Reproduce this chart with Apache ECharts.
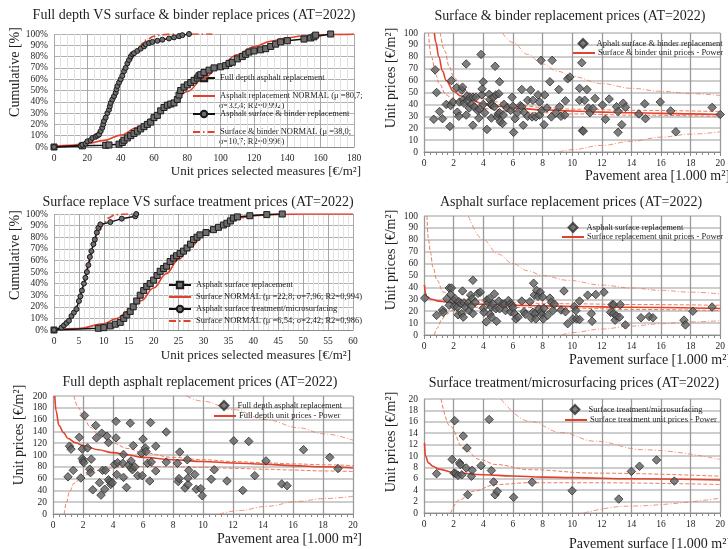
<!DOCTYPE html>
<html>
<head>
<meta charset="utf-8">
<title>Unit prices AT=2022</title>
<script src="https://cdn.jsdelivr.net/npm/echarts@6.0.0/dist/echarts.min.js"></script>
<style>
  html, body { margin: 0; padding: 0; background: #fff; }
  #main { width: 728px; height: 549px; }
</style>
</head>
<body>
<div id="main"></div>
<script>
// ---------- panel 1 : cumulative full depth vs surface & binder ----------
const p1FullDepth = [[0,0],[17,1],[31,1.5],[33,1.8],[39,2.5],[41,4],[42,6],[44,8],[46,10],[48,12],[50,14],[52,16],[54,18],[56,20],[58,22],[60,26],[62,28],[64,32],[66,35],[68,37],[70,38],[72,39],[74,42],[75,46],[76,50],[78,53],[80,55],[82,57],[84,59],[86,61],[87,63],[88,64],[90,66],[93,68],[96,70],[100,71],[103,72],[105,74],[107,75],[110,78],[113,80],[115,82],[117,84],[120,85],[124,86],[127,87],[130,89],[133,91],[136,93],[140,94],[150,95.5],[154,96.5],[156,97.5],[157,99],[166,100]];
const p1SurfBinder = [[0,0],[16,1],[17,2],[19,3],[20,5],[22,6],[23,8],[25,9],[26,10],[27,11],[28,14],[29,17],[29.5,20],[30,23],[31,26],[32,30],[33,33],[33.5,36],[34,39],[35,42],[36,45],[37,48],[37.5,51],[38,54],[39,57],[40,60],[41,63],[42,67],[43,70],[44,74],[45,77],[46,80],[47,82],[48,83],[50,85],[52,87],[54,89],[55,91],[57,92],[59,93],[62,94],[65,95],[69,96],[72,97],[75,98],[77,99],[81,100]];
const p1FullDepthFit = [[0,0.6],[10,1.5],[20,3.1],[30,5.9],[40,10.5],[50,17.2],[60,26.1],[70,37.1],[80,49.1],[90,61.3],[100,72.4],[110,81.7],[120,88.7],[130,93.6],[140,96.6],[150,98.4],[160,99.3],[170,99.7],[180,99.9]];
const p1SurfBinderFit = [[0,0],[10,0.4],[15,1.6],[20,4.6],[25,11.2],[30,22.7],[35,39],[40,57.4],[45,74.3],[50,86.9],[55,94.4],[60,98],[65,99.4],[70,99.9],[80,100],[95,100]];

// ---------- panel 3 : cumulative surface replace vs surface treatment ----------
const p3Surface = [[0,0],[8.9,1.5],[10,2],[11.3,3.5],[12.3,5],[13.3,6.6],[14,10],[14.6,13],[15.3,16],[15.9,20],[16.6,25],[17.3,30],[18,34],[18.6,37.6],[19.3,40],[20,43],[20.7,47],[21.3,50.6],[22,53],[22.6,55],[23.3,59],[24,62],[24.6,64],[25.3,66],[26,68],[26.7,70.7],[27.4,74],[28,78],[28.7,80],[29.3,82],[30.5,84],[32,86.5],[33,88.5],[34,90.5],[34.7,92],[35.4,94],[36,96.5],[36.8,97.5],[39.3,98.5],[42.7,99.5],[45.8,100]];
const p3Treatment = [[0,0],[1.5,2],[2,4],[2.5,6],[3,8],[3.5,12],[4,15],[4.5,18],[5,25],[5.3,29],[5.6,34],[6,40],[6.3,45],[6.6,50],[6.9,56],[7.2,63],[7.5,68],[7.9,74],[8.2,78],[8.6,84],[8.9,88],[9.3,91],[11.3,93],[13.6,96],[16.3,98],[16.5,100]];
const p3SurfaceFit = [[0,0.2],[5,1.3],[10,5.4],[12.5,9.8],[15,16.4],[17.5,25.3],[20,36.2],[22.5,48.5],[25,60.9],[27.5,72.2],[30,81.7],[32.5,88.9],[35,93.7],[37.5,96.8],[40,98.5],[45,99.7],[50,100],[60,100]];
const p3TreatmentFit = [[0,0.3],[1,1.1],[2,3],[3,7.2],[4,14.7],[5,26.2],[6,41.2],[7,57.5],[8,72.7],[9,84.5],[10,92.4],[11,96.7],[12,98.8],[13,99.6],[14,99.9],[15,100],[17,100]];

// ---------- panel 2 : surface & binder replacement ----------
const p2Points = [[0.66,27.5],[0.75,69],[0.85,50],[1.05,34],[1.25,28],[1.5,40],[1.75,21.5],[1.8,39],[1.85,60],[1.95,42],[2.2,54],[2.25,33.5],[2.35,30],[2.4,42],[2.55,52],[2.6,54.5],[2.65,44],[2.7,41],[2.85,74],[2.85,31],[2.9,47],[2.95,43],[3.05,37],[3.1,46],[3.2,40],[3.3,46],[3.3,22.5],[3.4,38],[3.5,46],[3.6,35],[3.7,28.5],[3.75,36],[3.85,82],[3.9,48],[3.92,53],[4.0,59],[4.0,40],[4.1,33],[4.25,19],[4.4,48.5],[4.45,44],[4.5,40],[4.55,28.5],[4.6,39.5],[4.7,46],[4.75,38],[4.8,72],[4.85,48],[4.95,29.5],[5.0,32],[5.05,49],[5.1,59],[5.1,33],[5.15,25.5],[5.3,24],[5.35,31],[5.4,40],[5.6,37],[5.85,35],[5.95,46],[6.0,38.5],[6.05,16.5],[6.15,28],[6.3,33],[6.5,39],[6.6,52.5],[6.6,38],[6.7,22.5],[6.75,33.5],[7.0,43.5],[7.0,30],[7.2,52],[7.3,29.5],[7.35,43.5],[7.55,29.5],[7.7,48],[7.8,42],[7.8,31],[7.9,77],[7.95,35],[8.1,23],[8.15,48],[8.3,37],[8.5,59],[8.6,29.5],[8.65,77],[8.9,33],[9.1,52.5],[9.15,38],[9.25,30],[9.5,31],[9.55,43],[9.7,61.5],[9.85,63],[10.5,53.5],[10.5,43.5],[10.65,75],[10.7,18],[10.75,17.5],[10.85,43.5],[11.0,52.5],[11.1,37],[11.2,33],[11.4,36.5],[11.55,45],[12.05,39.5],[12.25,27.5],[12.5,44.5],[13.0,38],[13.1,34],[13.1,16.5],[13.35,23],[13.45,41],[13.6,37.5],[14.5,32],[14.9,40.5],[14.95,28],[15.95,42],[16.65,34.5],[17.0,17],[19.45,37.5],[20,31.5]];
const p2Fit = [[0.7,100],[0.8,92],[1,80],[1.25,68],[1.5,60],[2,51],[2.5,47],[3,44.5],[4,40.5],[5,38.5],[6,37],[8,35.5],[10,34.5],[12,33.5],[14,33],[16,32.5],[18,32],[20,31.5]];
const p2InnerUp = [[1.1,100],[1.4,85],[1.7,72],[2,63],[2.5,55],[3,50],[4,45],[5,42],[6,40],[8,37.5],[10,36],[14,35],[20,34]];
const p2InnerLo = [[0.3,100],[0.5,80],[0.8,65],[1,58],[1.5,48],[2,43],[3,38.5],[4,36.5],[6,34],[8,33],[10,32],[14,31],[20,30]];
const p2OuterUp = [[5.3,100],[6,92],[7,82],[8,74],[9,68],[10,63.5],[12,57.5],[14,53.5],[16,51],[18,49],[20,47.5]];
const p2OuterLo = [[9.1,0],[10,2],[12,5.5],[14,9],[16,12.5],[18,15],[20,17]];

// ---------- panel 4 : asphalt surface replacement ----------
const p4Points = [[0.05,31],[0.85,16.5],[1.25,21],[1.3,19],[1.55,30.5],[1.7,39.5],[1.85,39.5],[1.8,34],[1.7,25],[2.0,29],[2.05,24],[2.1,30.5],[2.25,23.5],[2.3,17],[2.35,28],[2.5,26.5],[2.55,18],[2.6,37],[2.65,15],[2.7,27],[2.8,23.5],[3.0,27],[3.05,20.5],[3.15,33.5],[3.2,24.5],[3.25,30.5],[3.3,46],[3.3,18],[3.45,27.5],[3.65,35],[3.8,36],[4.0,22.5],[4.05,19],[4.2,11],[4.25,29.5],[4.35,27],[4.4,30.5],[4.45,17.5],[4.55,23.5],[4.55,15],[4.65,26],[4.75,34.5],[4.85,22],[4.9,11.5],[5.05,28.5],[5.1,22],[5.3,26],[5.45,26],[5.5,20.5],[5.7,29],[5.8,26],[5.85,19.5],[5.95,25],[6.0,23],[6.1,18],[6.2,13.5],[6.35,15],[6.6,28.5],[6.75,19.5],[6.85,17.5],[7.15,28],[7.25,14],[7.35,19],[7.4,43.5],[7.45,33.5],[7.5,18],[7.55,13.5],[7.6,37.5],[7.7,32.5],[7.75,22],[7.85,36],[7.9,19.5],[7.95,17],[8.0,32],[8.05,13.5],[8.1,22.5],[8.35,16.5],[8.5,31],[8.6,27.5],[8.7,20.5],[8.8,26],[9.25,21],[9.45,37],[9.55,19.5],[9.7,9.5],[10.05,13.5],[10.15,24],[10.25,20.5],[10.3,13.5],[10.5,28.5],[10.5,13],[11.05,33.5],[11.3,18],[11.35,11.5],[11.6,34],[12.15,36],[12.6,19],[12.7,25.5],[12.8,25.5],[12.8,18],[12.9,12.5],[13.0,16],[13.2,15],[13.25,25.5],[13.6,8.5],[14.65,14.5],[15.2,15.5],[15.45,14.5],[17.55,12.5],[17.65,8.5],[18.15,20],[19.45,23.5]];
const p4Fit = [[0.03,42],[0.1,35],[0.2,32],[0.5,30],[1,28.5],[2,27],[4,25.8],[6,25],[8,24.5],[10,24],[14,23.3],[20,22.3]];
const p4InnerUp = [[0.2,100],[0.3,80],[0.44,69],[0.6,57],[0.88,46],[1.3,36],[2,31],[3,29.3],[4,28.3],[6,27.2],[8,26.6],[10,26.2],[14,25.6],[20,25]];
const p4InnerLo = [[0.7,0],[0.9,6],[1.2,13],[1.5,17.5],[2,21],[3,23],[4,23.5],[6,23.3],[10,22.5],[14,21.5],[20,20.5]];
const p4OuterUp = [[3.0,100],[4,80],[5,68],[6,60],[7,54],[8,50],[9.7,46],[12,42],[14,39.5],[16,37.5],[18,36],[20,34.5]];
const p4OuterLo = [[9.3,0],[10,2],[12,5],[14,7.5],[16,9.5],[18,11],[20,12]];

// ---------- panel 5 : full depth asphalt replacement ----------
const p5Points = [[1.0,63],[1.1,115],[1.2,110],[1.35,74],[1.75,130],[1.85,61],[1.95,110],[1.95,94],[2.0,90],[2.05,87],[2.1,167],[2.3,112],[2.45,76],[2.5,70],[2.55,93],[2.65,41],[2.85,150],[2.9,129],[3.1,53],[3.2,32],[3.25,137],[3.3,74],[3.45,42],[3.5,74],[3.6,132],[3.7,121],[3.7,58],[3.8,55],[3.85,50],[3.95,53],[4.1,84],[4.2,157],[4.2,129],[4.25,67],[4.3,87],[4.65,86],[4.7,101],[4.7,62],[4.9,45],[5.05,83],[5.15,154],[5.2,90],[5.2,78],[5.3,75],[5.35,116],[5.45,80],[5.65,65],[5.9,103],[5.95,65],[6.0,127],[6.15,112],[6.2,106],[6.3,86],[6.45,56],[6.5,155],[6.55,88],[6.85,73],[6.85,115],[7.55,88],[7.55,139],[8.3,86],[8.35,55],[8.4,60],[8.45,105],[8.8,44],[8.95,92],[9.0,50],[9.0,61],[9.05,74],[9.45,67],[9.55,42],[9.85,43],[9.95,31],[10.55,59],[10.75,75],[11.6,56],[12.05,124],[12.65,40],[13.05,123],[13.45,65],[14.2,90],[15.25,51],[15.6,48],[16.7,109],[18.45,96],[19.0,77]];
const p5Fit = [[0.12,200],[0.2,175],[0.4,150],[0.7,138],[1,128],[1.5,121],[2,116],[3,109],[4,104],[5,100],[6,96],[8,92],[10,89],[12,86.5],[14,84.5],[16,82],[18,80],[20,78]];
const p5InnerUp = [[1.4,200],[1.7,180],[2,165],[2.5,147],[3,135],[4,120],[5,111],[6,104],[8,96],[10,92],[12,89],[14,87],[16,85],[18,83.5],[20,82]];
const p5InnerLo = [[0.75,0],[0.9,20],[1.1,38],[1.4,52],[2,65],[3,74],[4,78],[5,80],[6,80.5],[8,80],[10,79],[12,77.5],[14,76],[16,74.5],[18,73],[20,72]];
const p5OuterUp = [[8.9,200],[10,191],[12,177],[14.2,160],[16.4,146],[18,136],[20,125]];
const p5OuterLo = [[11.1,0],[12.5,6],[14.2,13],[16.4,21.5],[18,26],[20,30]];

// ---------- panel 6 : surface treatment / microsurfacing ----------
const p6Points = [[0.85,6.9],[1.9,9.4],[2.07,16.2],[2.03,7.0],[2.15,6.9],[2.3,6.6],[2.4,8.8],[2.45,8.5],[2.55,6.7],[2.65,13.5],[2.85,7.9],[2.9,11.4],[2.95,3.2],[3.2,6.45],[3.25,7.5],[3.85,8.3],[4.4,16.4],[4.55,7.45],[4.7,5.45],[4.8,3.2],[4.95,3.8],[6.05,2.75],[7.3,5.4],[10.0,3.9],[13.15,2.45],[14.0,7.3],[14.55,8.2],[15.7,9.3],[16.9,5.6]];
const p6Fit = [[0.03,12.3],[0.1,10],[0.3,8.8],[0.6,8.2],[1,7.7],[2,7.1],[4,6.7],[6,6.5],[8,6.3],[10,6.2],[14,6],[20,5.8]];
const p6InnerUp = [[1.15,20],[1.77,15.2],[2.65,11.4],[3.75,9.4],[4.86,8.5],[7.1,7.6],[11.5,7.0],[20,6.45]];
const p6InnerLo = [[1.8,0],[2.4,2.3],[3.3,3.8],[4.86,5],[7.06,5.3],[11.5,5.3],[20,5]];
const p6OuterUp = [[5.2,20],[7.1,16.1],[9.3,14.1],[11.5,12.6],[14.8,11.1],[20,9.4]];
const p6OuterLo = [[10.8,0],[13.7,1.2],[20,2.6]];

const SERIF = '"Liberation Serif", "Times New Roman", serif';
const RED = '#e2412c';
const BAND = '#ee7a5a';
const TXT = '#1e1e1e';

const chart = echarts.init(document.getElementById('main'));

function axLabel(fmt) {
  return { fontFamily: SERIF, fontSize: 9.5, color: TXT, margin: 6, formatter: fmt };
}

// cumulative panels: light minor grid
function cumX(grid, max, interval) {
  return {
    type: 'value', gridIndex: grid, min: 0, max: max, interval: interval,
    axisLabel: axLabel(),
    axisLine: { show: true, onZero: false, lineStyle: { color: '#8a8a8a' } },
    axisTick: { show: false },
    splitLine: { show: true, lineStyle: { color: '#a8a8a8' } },
    minorTick: { show: false, splitNumber: 5 },
    minorSplitLine: { show: true, lineStyle: { color: '#e2e2e2' } }
  };
}
function cumY(grid) {
  return {
    type: 'value', gridIndex: grid, min: 0, max: 100, interval: 10,
    axisLabel: axLabel('{value}%'),
    axisLine: { show: false }, axisTick: { show: false },
    splitLine: { show: true, lineStyle: { color: '#b0b0b0' } }
  };
}
// scatter panels
function scX(grid) {
  return {
    type: 'value', gridIndex: grid, min: 0, max: 20, interval: 2,
    axisLabel: axLabel(),
    axisLine: { show: true, onZero: false, lineStyle: { color: '#8a8a8a' } },
    axisTick: { show: true, length: 4, lineStyle: { color: '#888' } },
    minorTick: { show: true, splitNumber: 5, length: 3, lineStyle: { color: '#888' } },
    splitLine: { show: true, lineStyle: { color: '#9a9a9a', width: 1.3 } }
  };
}
function scY(grid, max, interval) {
  return {
    type: 'value', gridIndex: grid, min: 0, max: max, interval: interval,
    axisLabel: axLabel(),
    axisLine: { show: false }, axisTick: { show: false },
    splitLine: { show: true, lineStyle: { color: '#cdcdcd', width: 2 } }
  };
}

function dataLine(name, idx, data, symbol, size) {
  return {
    name: name, type: 'line', xAxisIndex: idx, yAxisIndex: idx, data: data,
    symbol: symbol, symbolSize: size, showSymbol: true,
    lineStyle: { color: '#111', width: 1.5 },
    itemStyle: { color: '#6e6e6e', borderColor: '#1a1a1a', borderWidth: 1 },
    z: 5
  };
}
function fitLine(name, idx, data, dash) {
  return {
    name: name, type: 'line', xAxisIndex: idx, yAxisIndex: idx, data: data,
    symbol: 'none', smooth: 0.4, smoothMonotone: 'x',
    lineStyle: { color: RED, width: 1.6, type: dash ? [7, 3, 1.5, 3] : 'solid' },
    itemStyle: { color: RED },
    z: 4
  };
}
function band(idx, data, outer) {
  return {
    type: 'line', xAxisIndex: idx, yAxisIndex: idx, data: data,
    symbol: 'none', smooth: 0.4, smoothMonotone: 'x', silent: true,
    lineStyle: { color: BAND, width: 1, type: outer ? [5, 2, 1, 2] : [4, 2], opacity: outer ? 0.8 : 1 },
    z: 3
  };
}
function pts(name, idx, data) {
  return {
    name: name, type: 'scatter', xAxisIndex: idx, yAxisIndex: idx, data: data,
    symbol: 'diamond', symbolSize: 8.5,
    itemStyle: { color: '#5f5f5f', borderColor: '#2e2e2e', borderWidth: 1 },
    z: 6
  };
}

// series names
const N = {
  fd: 'Full depth asphalt replacement',
  fdFit: 'Asphalt replacement NORMAL (\u03bc =80,7;',
  sb: 'Asphalt surface & binder replacement',
  sbFit: 'Surface & binder NORMAL (\u03bc =38,0;',
  sr: 'Asphalt surface replacement',
  srFit: 'Surface NORMAL (\u03bc =22,8; \u03c3=7,96; R2=0,994)',
  st: 'Asphalt surface treatment/microsurfacing',
  stFit: 'Surface NORMAL (\u03bc =6,54; \u03c3=2,42; R2=0,986)',
  p2: 'Aphalt surface & binder replacement',
  p2Fit: 'Surface & binder unit prices - Power',
  p4: 'Asphalt surface replacement ',
  p4Fit: 'Surface replacement unit prices - Power',
  p5: 'Full depth asphalt replacement ',
  p5Fit: 'Full depth unit prices - Power',
  p6: 'Surface treatment/microsurfacing',
  p6Fit: 'Surface treatment unit prices - Power'
};

const LEG_TEXT = { fontFamily: SERIF, fontSize: 8.5, color: TXT, lineHeight: 10 };
// fit entries: keep the line, hide the default marker
function lineOnly(name) {
  return { name: name, itemStyle: { opacity: 0 } };
}

// vertical legend for the cumulative panels (line + marker icons)
function legend(names, left, top, gap) {
  return {
    data: names, orient: 'vertical', left: left, top: top, padding: 0,
    itemWidth: 22, itemHeight: 8, itemGap: gap,
    textStyle: LEG_TEXT, selectedMode: false
  };
}
// single scatter entry (keeps the diamond square)
function ptLegend(name, cx, cy) {
  return {
    data: [name], left: cx - 4.5, top: cy - 5, padding: 0,
    itemWidth: 9, itemHeight: 9,
    textStyle: Object.assign({ padding: [0, 0, 0, 4] }, LEG_TEXT), selectedMode: false
  };
}
// single fit-line entry
function fitLegend(name, left, cy) {
  return {
    data: [lineOnly(name)], left: left, top: cy - 5, padding: 0,
    itemWidth: 22, itemHeight: 8,
    textStyle: Object.assign({ padding: [0, 0, 0, -2] }, LEG_TEXT), selectedMode: false
  };
}

function title(text, cx, top) {
  return {
    text: text, left: cx, top: top, textAlign: 'center', padding: 0,
    textStyle: { fontFamily: SERIF, fontSize: 14, fontWeight: 'normal', color: TXT }
  };
}

function label(text, x, y, size, rot, align) {
  return {
    type: 'text', x: x, y: y, rotation: rot || 0, silent: true,
    style: {
      text: text, x: 0, y: 0, fill: TXT,
      font: size + 'px ' + SERIF,
      textAlign: align || 'center', textVerticalAlign: 'middle',
      align: align || 'center', verticalAlign: 'middle'
    }
  };
}

const option = {
  backgroundColor: '#fff',
  animation: false,
  title: [
    title('Full depth VS surface & binder replace prices (AT=2022)', 194, 8),
    title('Surface & binder replacement prices (AT=2022)', 570, 9),
    title('Surface replace VS surface treatment prices (AT=2022)', 198, 195),
    title('Asphalt surface replacement prices (AT=2022)', 571, 195),
    title('Full depth asphalt replacement prices (AT=2022)', 200, 375),
    title('Surface treatment/microsurfacing prices (AT=2022)', 574, 376)
  ],
  grid: [
    { left: 54, top: 34, width: 300, height: 113 },
    { left: 424, top: 33, width: 302, height: 119 },
    { left: 54, top: 214, width: 299, height: 116 },
    { left: 424, top: 216, width: 302, height: 119 },
    { left: 53, top: 396, width: 300, height: 118 },
    { left: 424, top: 399, width: 302, height: 114 }
  ],
  xAxis: [cumX(0, 180, 20), scX(1), cumX(2, 60, 5), scX(3), scX(4), scX(5)],
  yAxis: [cumY(0), scY(1, 100, 10), cumY(2), scY(3, 100, 10), scY(4, 200, 20), scY(5, 20, 2)],
  legend: [
    legend([N.fd, lineOnly(N.fdFit), N.sb, lineOnly(N.sbFit)], 192, 73, 8),
    legend([N.sr, lineOnly(N.srFit), N.st, lineOnly(N.stFit)], 168, 280, 2),
    ptLegend(N.p2, 582, 43), fitLegend(N.p2Fit, 572, 53),
    ptLegend(N.p4, 572, 227), fitLegend(N.p4Fit, 561, 237),
    ptLegend(N.p5, 223, 405), fitLegend(N.p5Fit, 213, 416),
    ptLegend(N.p6, 574, 409), fitLegend(N.p6Fit, 564, 420)
  ],
  series: [
    dataLine(N.fd, 0, p1FullDepth, 'rect', 6),
    fitLine(N.fdFit, 0, p1FullDepthFit, false),
    dataLine(N.sb, 0, p1SurfBinder, 'circle', 5),
    fitLine(N.sbFit, 0, p1SurfBinderFit, true),

    band(1, p2OuterUp, true), band(1, p2OuterLo, true),
    band(1, p2InnerUp, false), band(1, p2InnerLo, false),
    pts(N.p2, 1, p2Points),
    fitLine(N.p2Fit, 1, p2Fit, false),

    dataLine(N.sr, 2, p3Surface, 'rect', 6),
    fitLine(N.srFit, 2, p3SurfaceFit, false),
    dataLine(N.st, 2, p3Treatment, 'circle', 5),
    fitLine(N.stFit, 2, p3TreatmentFit, true),

    band(3, p4OuterUp, true), band(3, p4OuterLo, true),
    band(3, p4InnerUp, false), band(3, p4InnerLo, false),
    pts(N.p4, 3, p4Points),
    fitLine(N.p4Fit, 3, p4Fit, false),

    band(4, p5OuterUp, true), band(4, p5OuterLo, true),
    band(4, p5InnerUp, false), band(4, p5InnerLo, false),
    pts(N.p5, 4, p5Points),
    fitLine(N.p5Fit, 4, p5Fit, false),

    band(5, p6OuterUp, true), band(5, p6OuterLo, true),
    band(5, p6InnerUp, false), band(5, p6InnerLo, false),
    pts(N.p6, 5, p6Points),
    fitLine(N.p6Fit, 5, p6Fit, false)
  ],
  graphic: [
    // second lines of the two-line legend entries
    label('\u03c3=32,4; R2=0,992)', 219, 106, 8.5, 0, 'left'),
    label('\u03c3=10,7; R2=0,996)', 219, 142, 8.5, 0, 'left'),
    // axis names
    label('Cumulative [%]', 15, 72, 14, Math.PI / 2),
    label('Cumulative [%]', 15, 255, 14, Math.PI / 2),
    label('Unit prices [\u20ac/m\u00b2]', 391, 78, 14, Math.PI / 2),
    label('Unit prices [\u20ac/m\u00b2]', 391, 260, 14, Math.PI / 2),
    label('Unit prices [\u20ac/m\u00b2]', 19, 435, 14, Math.PI / 2),
    label('Unit prices [\u20ac/m\u00b2]', 391, 442, 14, Math.PI / 2),
    label('Unit prices selected measures [\u20ac/m\u00b2]', 361, 172, 13, 0, 'right'),
    label('Pavement area [1.000 m\u00b2]', 730, 176, 14, 0, 'right'),
    label('Unit prices selected measures [\u20ac/m\u00b2]', 351, 356, 13, 0, 'right'),
    label('Pavement surface [1.000 m\u00b2]', 731, 360, 14, 0, 'right'),
    label('Pavement area [1.000 m\u00b2]', 362, 539, 14, 0, 'right'),
    label('Pavement surface [1.000 m\u00b2]', 731, 544, 14, 0, 'right')
  ]
};

chart.setOption(option);
</script>
</body>
</html>
